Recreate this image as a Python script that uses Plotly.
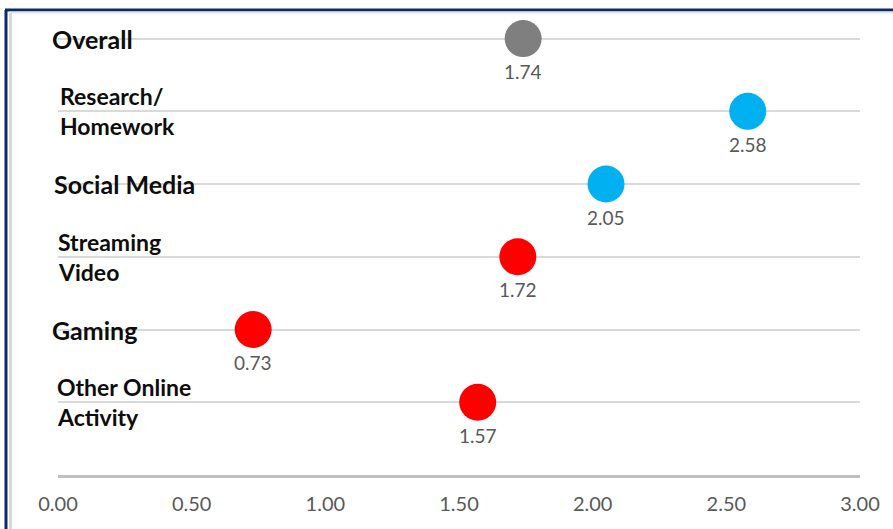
import plotly.graph_objects as go

# ---- data ----
categories = ["Overall", "Research/<br>Homework", "Social Media", "Streaming<br>Video",
              "Gaming", "Other Online<br>Activity"]
values = [1.74, 2.58, 2.05, 1.72, 0.73, 1.57]
colors = ["#7f7f7f", "#00b0f0", "#00b0f0", "#ff0000", "#ff0000", "#ff0000"]
tick_vals = [0, 0.5, 1.0, 1.5, 2.0, 2.5, 3.0]
tick_text = ["0.00", "0.50", "1.00", "1.50", "2.00", "2.50", "3.00"]

W, H = 893, 529
ML, MR, MT, MB = 58, 33, 24, 54
PW, PH = W - ML - MR, H - MT - MB
n = len(categories)
ypos = [n - i for i in range(n)]  # Overall at top


def px_x(x):
    return (x - ML) / PW


def px_y(y):
    return 1 - (y - MT) / PH


fig = go.Figure()
fig.add_trace(go.Scatter(
    x=values, y=ypos, mode="markers",
    marker=dict(size=37, color=colors, line=dict(width=0)),
    cliponaxis=False, hoverinfo="skip", showlegend=False,
))

annotations = []
label_x = [50, 58, 52, 56, 50, 55]
for i, (cat, yv) in enumerate(zip(categories, ypos)):
    lines = cat.split("<br>")
    if len(lines) == 1:
        annotations.append(dict(
            x=px_x(label_x[i]), xref="paper", y=yv, yref="y", text="<b>%s</b>" % lines[0],
            showarrow=False, xanchor="left", yanchor="middle",
            font=dict(family="Lato", size=25, color="#0d0d0d")))
    else:
        for j, ln in enumerate(lines):
            annotations.append(dict(
                x=px_x(label_x[i]), xref="paper", y=yv, yref="y", text="<b>%s</b>" % ln,
                showarrow=False, xanchor="left", yanchor="middle", yshift=(15 if j == 0 else -15),
                font=dict(family="Lato", size=23, color="#0d0d0d")))

for v, yv in zip(values, ypos):
    annotations.append(dict(
        x=v, y=yv, xref="x", yref="y", text="%.2f" % v, showarrow=False,
        xanchor="center", yanchor="middle", yshift=-33,
        font=dict(family="Lato", size=19, color="#595959")))

shapes = [
    # outer navy frame (left and top)
    dict(type="line", xref="paper", yref="paper", x0=px_x(6), x1=px_x(6), y0=px_y(10), y1=px_y(540),
         line=dict(color="#0b2a6b", width=3)),
    dict(type="line", xref="paper", yref="paper", x0=px_x(5), x1=px_x(900), y0=px_y(10), y1=px_y(10),
         line=dict(color="#0b2a6b", width=3)),
    # inner light gray frame
    dict(type="line", xref="paper", yref="paper", x0=px_x(10.5), x1=px_x(10.5), y0=px_y(12), y1=px_y(540),
         line=dict(color="#d9d9d9", width=3)),
    dict(type="line", xref="paper", yref="paper", x0=px_x(9), x1=px_x(900), y0=px_y(12.5), y1=px_y(12.5),
         line=dict(color="#e6e6e6", width=2)),
]

fig.update_layout(
    width=W, height=H,
    margin=dict(l=ML, r=MR, t=MT, b=MB, pad=0),
    paper_bgcolor="white", plot_bgcolor="white",
    annotations=annotations, shapes=shapes,
    xaxis=dict(range=[0, 3], tickvals=tick_vals, ticktext=tick_text, showgrid=False,
               zeroline=False, showline=True, linecolor="#bfbfbf", linewidth=3,
               ticks="outside", ticklen=9, tickcolor="rgba(0,0,0,0)",
               tickfont=dict(family="Lato", size=20, color="#595959"), fixedrange=True),
    yaxis=dict(range=[0, n + 0.2], tickvals=ypos, showticklabels=False, showgrid=True,
               gridcolor="#d9d9d9", gridwidth=2, zeroline=False, showline=False, fixedrange=True),
)

fig.write_html("out.html", config={"displayModeBar": False},
               post_script="document.body.style.margin='0';document.body.style.overflow='hidden';")
